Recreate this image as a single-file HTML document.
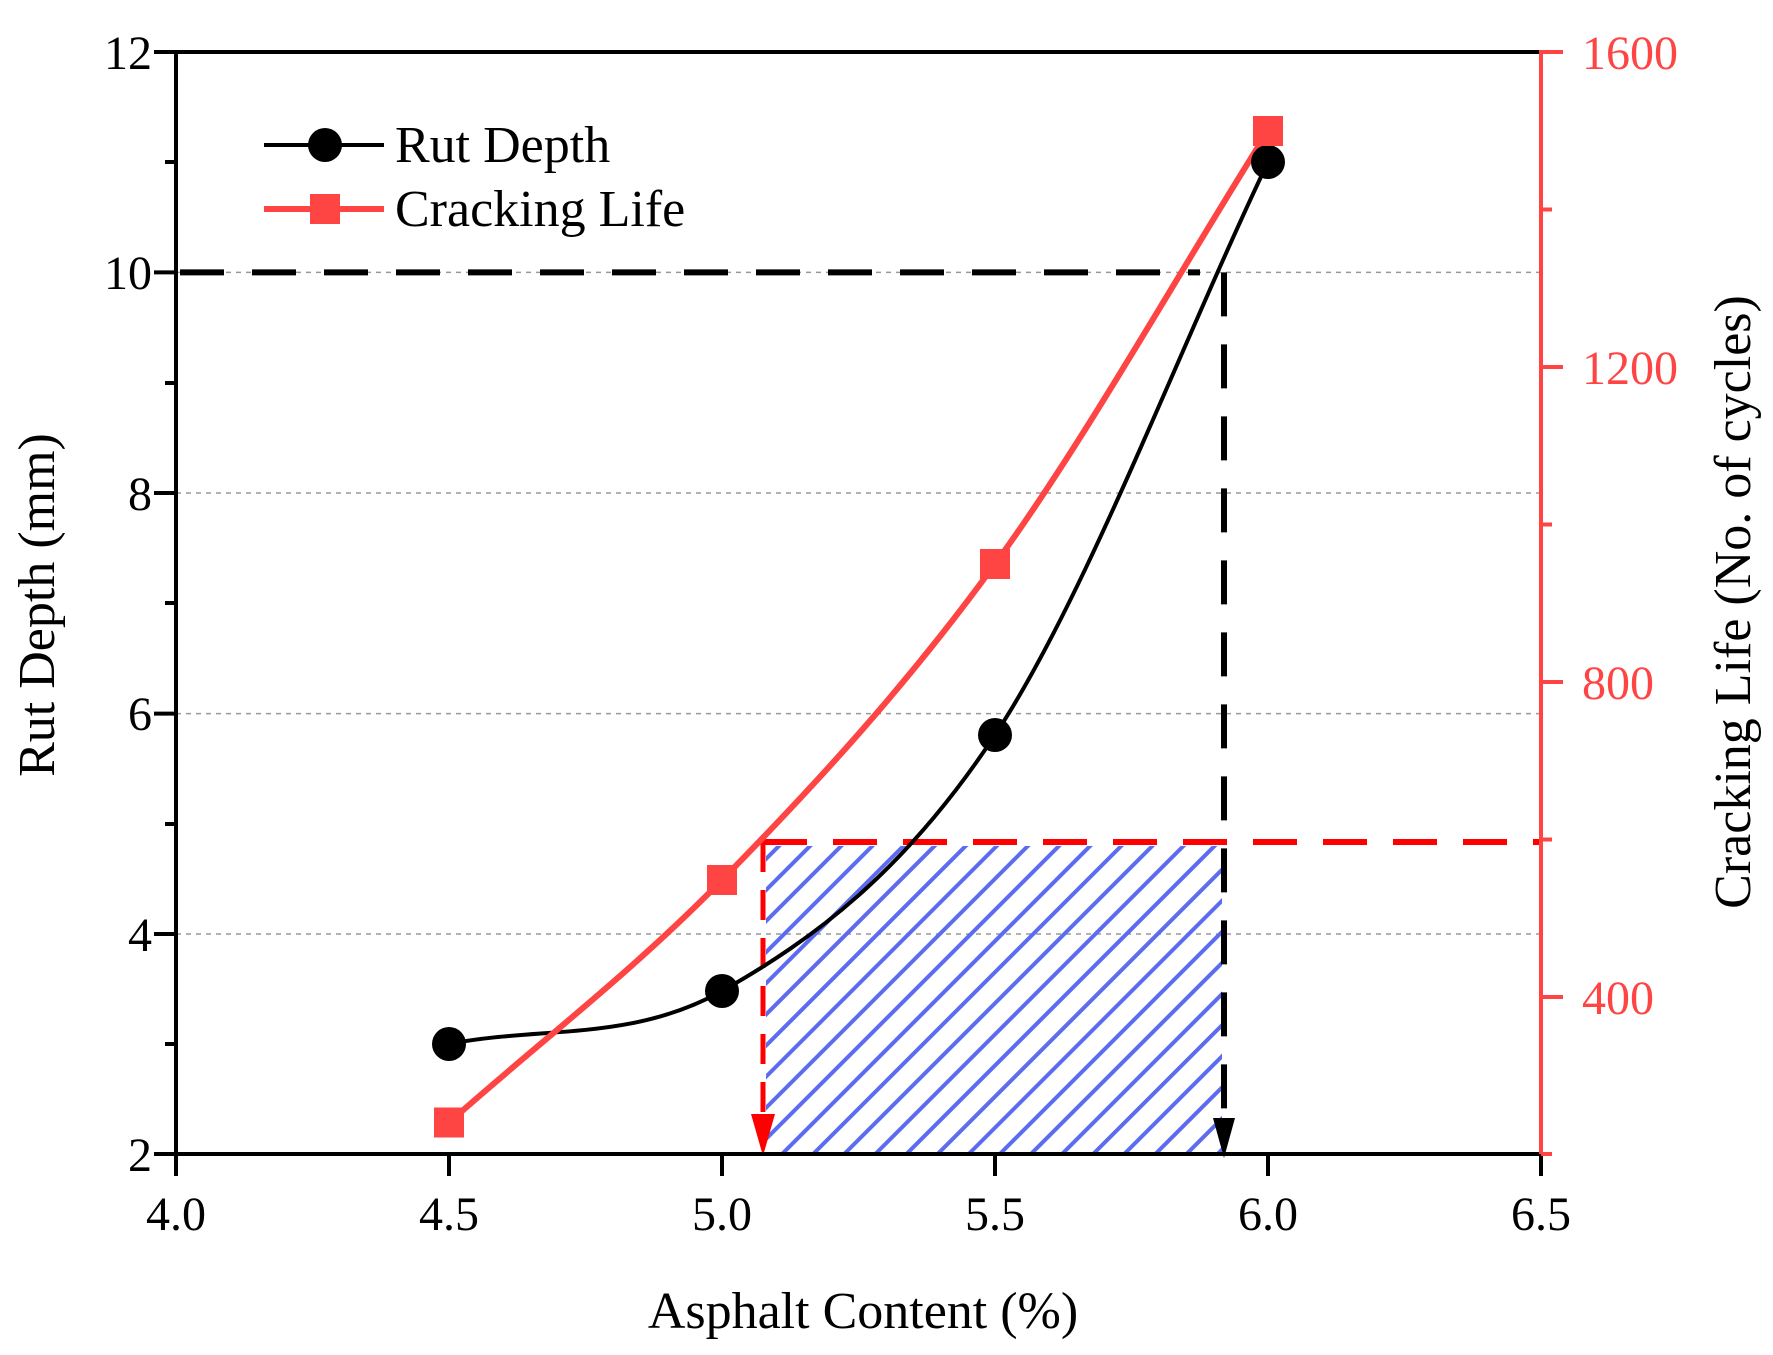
<!DOCTYPE html>
<html><head><meta charset="utf-8"><style>
html,body{margin:0;padding:0;background:#fff}
svg{display:block}
text{font-family:"Liberation Serif",serif}
</style></head><body>
<svg width="1773" height="1355" viewBox="0 0 1773 1355" xmlns="http://www.w3.org/2000/svg">
<defs>
<pattern id="h" width="22" height="22" patternUnits="userSpaceOnUse" patternTransform="rotate(45)">
<line x1="5" y1="0" x2="5" y2="22" stroke="#5b6cf0" stroke-width="4"/>
</pattern>
</defs>
<g stroke="#999" stroke-width="1.5" stroke-dasharray="5,5">
<line x1="176" y1="934" x2="1541" y2="934"/>
<line x1="176" y1="713.6" x2="1541" y2="713.6"/>
<line x1="176" y1="493" x2="1541" y2="493"/>
<line x1="176" y1="272.4" x2="1541" y2="272.4"/>
</g>
<rect x="766" y="846" width="456" height="308" fill="url(#h)"/>
<line x1="180" y1="272.4" x2="1200" y2="272.4" stroke="#000" stroke-width="6" stroke-dasharray="44,28"/>
<line x1="1224" y1="272.4" x2="1224" y2="1120" stroke="#000" stroke-width="6" stroke-dasharray="44,28"/>
<polygon points="1213,1118 1235,1118 1224,1158" fill="#000"/>
<line x1="763" y1="842" x2="1541" y2="842" stroke="#ff0000" stroke-width="6" stroke-dasharray="44,26"/>
<line x1="763" y1="842" x2="763" y2="1115" stroke="#ff0000" stroke-width="5" stroke-dasharray="30,18"/>
<polygon points="751,1114 775,1114 763,1156" fill="#ff0000"/>
<path d="M449,1044 C540,1026 631,1042 722,991 C813,939.5 904,873 995,735 C1086,597 1177,353 1268,162" fill="none" stroke="#000" stroke-width="4"/>
<path d="M449,1122.5 C540,1041.7 631,973 722,880 C813,787 904,689 995,564 C1086,439 1177,275 1268,131" fill="none" stroke="#ff4444" stroke-width="6"/>
<g fill="#000">
<circle cx="449" cy="1044" r="17"/><circle cx="722" cy="991" r="17"/><circle cx="995" cy="735" r="17"/><circle cx="1268" cy="162" r="17"/>
</g>
<g fill="#ff4444">
<rect x="434" y="1107.5" width="30" height="30"/><rect x="707" y="865" width="30" height="30"/><rect x="980" y="549" width="30" height="30"/><rect x="1253" y="116" width="30" height="30"/>
</g>
<g stroke="#000" stroke-width="4">
<line x1="176" y1="52" x2="1541" y2="52"/>
<line x1="176" y1="50" x2="176" y2="1156"/>
<line x1="174" y1="1154" x2="1541" y2="1154"/>
<line x1="154" y1="52" x2="176" y2="52"/><line x1="154" y1="272.4" x2="176" y2="272.4"/><line x1="154" y1="493" x2="176" y2="493"/><line x1="154" y1="713.6" x2="176" y2="713.6"/><line x1="154" y1="934" x2="176" y2="934"/><line x1="154" y1="1154" x2="176" y2="1154"/>
<line x1="165" y1="162" x2="176" y2="162"/><line x1="165" y1="383" x2="176" y2="383"/><line x1="165" y1="603" x2="176" y2="603"/><line x1="165" y1="824" x2="176" y2="824"/><line x1="165" y1="1044" x2="176" y2="1044"/>
<line x1="176" y1="1154" x2="176" y2="1176"/><line x1="449" y1="1154" x2="449" y2="1176"/><line x1="722" y1="1154" x2="722" y2="1176"/><line x1="995" y1="1154" x2="995" y2="1176"/><line x1="1268" y1="1154" x2="1268" y2="1176"/><line x1="1541" y1="1154" x2="1541" y2="1176"/>
</g>
<g stroke="#ff4444" stroke-width="4">
<line x1="1541" y1="50" x2="1541" y2="1154"/>
<line x1="1541" y1="52" x2="1563" y2="52"/><line x1="1541" y1="367" x2="1563" y2="367"/><line x1="1541" y1="682" x2="1563" y2="682"/><line x1="1541" y1="997" x2="1563" y2="997"/>
<line x1="1541" y1="209.5" x2="1552" y2="209.5"/><line x1="1541" y1="524.5" x2="1552" y2="524.5"/><line x1="1541" y1="839.5" x2="1552" y2="839.5"/><line x1="1541" y1="1154" x2="1552" y2="1154"/>
</g>
<g font-size="48" text-anchor="end" fill="#000">
<text x="152" y="69">12</text><text x="152" y="289">10</text><text x="152" y="510">8</text><text x="152" y="730">6</text><text x="152" y="951">4</text><text x="152" y="1171">2</text>
</g>
<g font-size="48" text-anchor="middle" fill="#000">
<text x="176" y="1230">4.0</text><text x="449" y="1230">4.5</text><text x="722" y="1230">5.0</text><text x="995" y="1230">5.5</text><text x="1268" y="1230">6.0</text><text x="1541" y="1230">6.5</text>
</g>
<g font-size="48" fill="#ff4444">
<text x="1582" y="69">1600</text><text x="1582" y="384">1200</text><text x="1582" y="699">800</text><text x="1582" y="1014">400</text>
</g>
<text x="863" y="1328" font-size="52" text-anchor="middle">Asphalt Content (%)</text>
<text transform="translate(54,605) rotate(-90)" font-size="52" text-anchor="middle">Rut Depth (mm)</text>
<text transform="translate(1750,602) rotate(-90)" font-size="52" text-anchor="middle">Cracking Life (No. of cycles)</text>
<line x1="264" y1="145" x2="384" y2="145" stroke="#000" stroke-width="4"/>
<circle cx="325" cy="145" r="17" fill="#000"/>
<text x="395" y="162" font-size="52">Rut Depth</text>
<line x1="264" y1="209" x2="384" y2="209" stroke="#ff4444" stroke-width="6"/>
<rect x="310" y="194" width="30" height="30" fill="#ff4444"/>
<text x="395" y="226" font-size="52">Cracking Life</text>
</svg>
</body></html>
